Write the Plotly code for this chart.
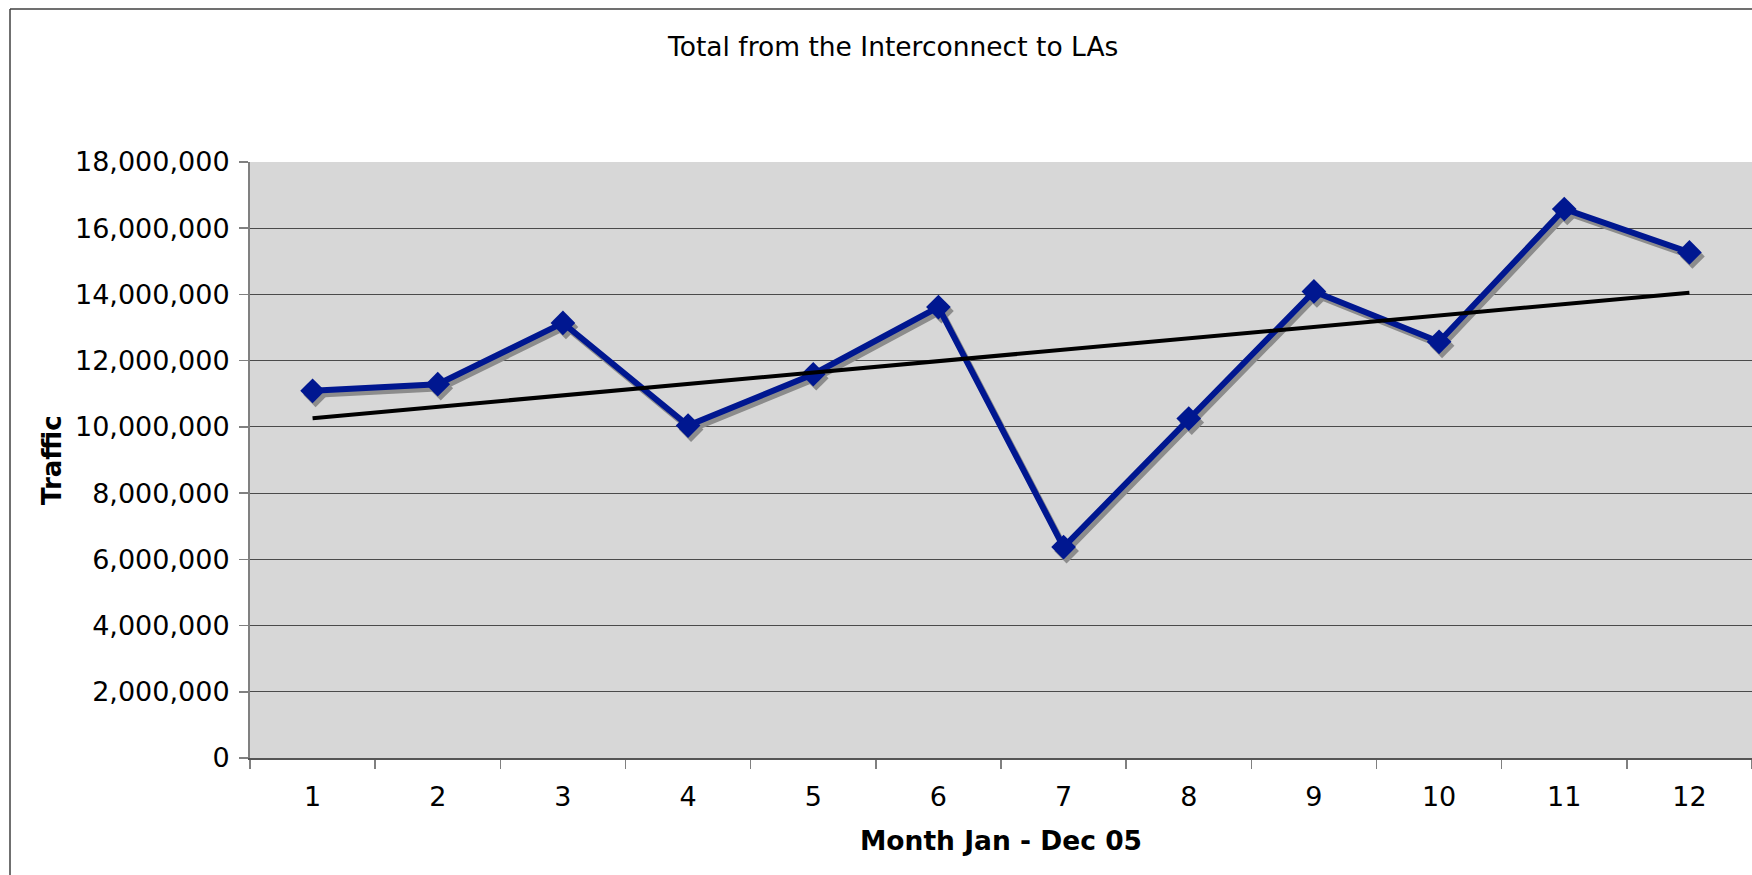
import numpy as np
import plotly.graph_objects as go

# ---- data ----
months = ["1", "2", "3", "4", "5", "6", "7", "8", "9", "10", "11", "12"]
traffic = [11.09e6, 11.29e6, 13.14e6, 10.04e6, 11.59e6, 13.62e6,
           6.37e6, 10.25e6, 14.09e6, 12.57e6, 16.58e6, 15.27e6]
y_ticks = [0, 2e6, 4e6, 6e6, 8e6, 10e6, 12e6, 14e6, 16e6, 18e6]

title_text = "Total from the Interconnect to LAs"
x_title = "Month Jan - Dec 05"
y_title = "Traffic"

# ---- layout constants (page pixel coordinates, body margin removed) ----
OFF = 0
W, H = 1752, 875
ML, MT, MR, MB = 250, 162, 0, 117
PW, PH = W - ML - MR, H - MT - MB
YMAX = 18e6
N = len(months)

BLUE = "#001790"
SHADOW = "#8C8C8C"
FONT = "DejaVu Sans"

# linear trend line (least squares over the month index)
idx = np.arange(N)
slope, intercept = np.polyfit(idx, np.array(traffic), 1)
trend = slope * idx + intercept

# shadow offset (pixels) expressed in axis units
sx = 3 / (PW / N)
sy = 4 * YMAX / PH

fig = go.Figure()
fig.add_trace(go.Scatter(x=months, y=traffic, mode="markers",
                         marker=dict(opacity=0), hoverinfo="skip", showlegend=False))
fig.add_trace(go.Scatter(x=months, y=traffic, xaxis="x2", yaxis="y2",
                         mode="lines+markers",
                         line=dict(color=SHADOW, width=6),
                         marker=dict(symbol="diamond", size=19, color=SHADOW),
                         hoverinfo="skip", showlegend=False))
fig.add_trace(go.Scatter(x=months, y=traffic, xaxis="x3", yaxis="y3",
                         mode="lines+markers", name="Traffic",
                         line=dict(color=BLUE, width=6),
                         marker=dict(symbol="diamond", size=19, color=BLUE),
                         showlegend=False))
fig.add_trace(go.Scatter(x=months, y=trend, xaxis="x3", yaxis="y3",
                         mode="lines", name="Linear trend",
                         line=dict(color="#000000", width=4),
                         showlegend=False))

xr = [-0.5, N - 0.5]
fig.update_layout(
    width=W, height=H,
    margin=dict(l=ML, r=MR, t=MT, b=MB, pad=0),
    paper_bgcolor="white",
    plot_bgcolor="#D7D7D7",
    font=dict(family=FONT, size=27, color="#000000"),
    showlegend=False,
    xaxis=dict(type="category", categoryorder="array", categoryarray=months,
               range=xr, showgrid=False, zeroline=False,
               showline=True, linecolor="#555555", linewidth=2,
               ticks="outside", tickson="boundaries", ticklen=9,
               tickcolor="#808080", tickwidth=1.5,
               tickfont=dict(family=FONT, size=27),
               ticklabelstandoff=14, fixedrange=True),
    yaxis=dict(range=[0, YMAX], tickvals=y_ticks, tickformat=",d",
               showgrid=True, gridcolor="#4A4A4A", gridwidth=1,
               zeroline=False, showline=True, linecolor="#808080", linewidth=2,
               ticks="outside", ticklen=9, tickcolor="#808080", tickwidth=1.5,
               tickfont=dict(family=FONT, size=27),
               ticklabelstandoff=4, fixedrange=True),
    xaxis2=dict(type="category", categoryorder="array", categoryarray=months,
                overlaying="x", anchor="y2", visible=False,
                range=[xr[0] - sx, xr[1] - sx], fixedrange=True),
    yaxis2=dict(overlaying="y", anchor="x2", visible=False,
                range=[0 + sy, YMAX + sy], fixedrange=True),
    xaxis3=dict(type="category", categoryorder="array", categoryarray=months,
                overlaying="x", anchor="y3", visible=False,
                range=xr, fixedrange=True),
    yaxis3=dict(overlaying="y", anchor="x3", visible=False,
                range=[0, YMAX], fixedrange=True),
)

# convert reference-screen pixel positions to paper coordinates
def px_x(p):
    return (p - OFF - ML) / PW

def px_y(p):
    return (H - MB - (p - OFF)) / PH

# outer chart border (left and top visible)
fig.add_shape(type="line", xref="paper", yref="paper",
              x0=px_x(10), x1=px_x(W + 20), y0=px_y(9), y1=px_y(9),
              line=dict(color="#404040", width=1.5))
fig.add_shape(type="line", xref="paper", yref="paper",
              x0=px_x(10), x1=px_x(10), y0=px_y(9), y1=px_y(H + 20),
              line=dict(color="#404040", width=1.5))

# titles
fig.add_annotation(text=title_text, xref="paper", yref="paper",
                   x=px_x(892), y=px_y(47), xanchor="center", yanchor="middle",
                   showarrow=False, font=dict(family=FONT, size=26.5, color="#000"))
fig.add_annotation(text="<b>" + x_title + "</b>", xref="paper", yref="paper",
                   x=px_x(1001), y=px_y(840), xanchor="center", yanchor="middle",
                   showarrow=False, font=dict(family=FONT, size=26.5, color="#000"))
fig.add_annotation(text="<b>" + y_title + "</b>", xref="paper", yref="paper",
                   x=px_x(52), y=px_y(460), xanchor="center", yanchor="middle",
                   textangle=-90, showarrow=False,
                   font=dict(family=FONT, size=26, color="#000"))

fig.write_html(
    "out.html",
    config={"displayModeBar": False, "staticPlot": True},
    post_script="document.body.style.margin='0';document.body.style.overflow='hidden';",
)
